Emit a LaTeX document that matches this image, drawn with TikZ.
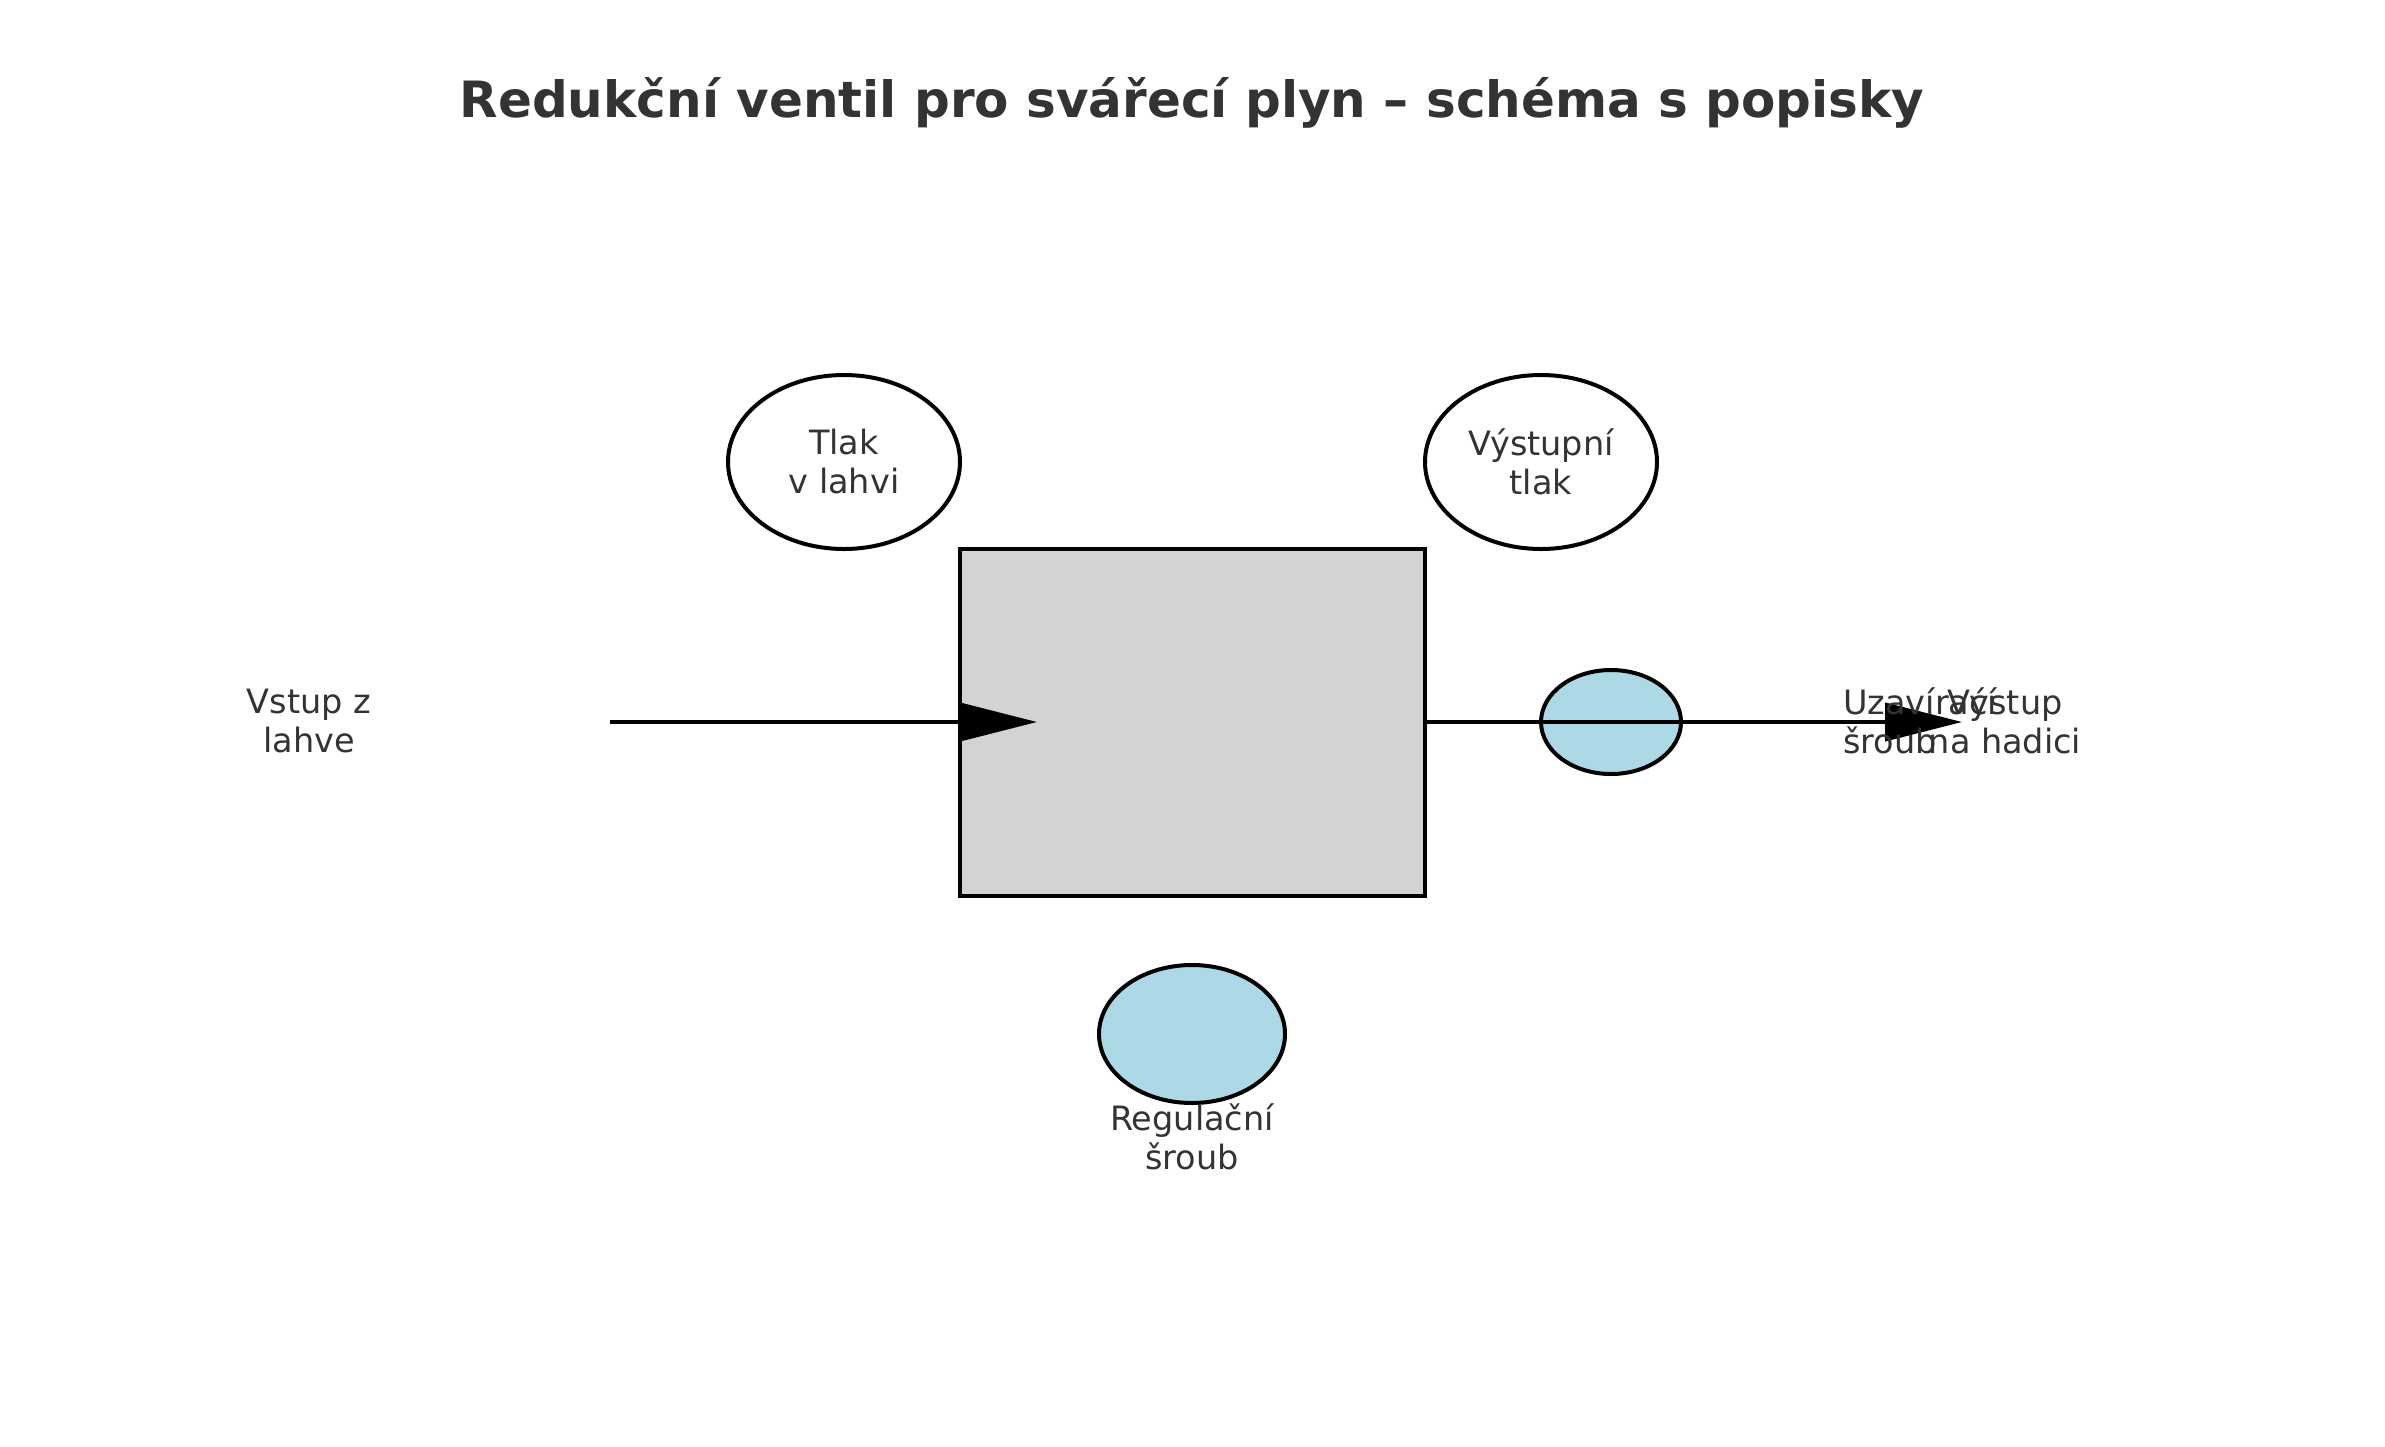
\documentclass[tikz,border=0pt]{standalone}
\usepackage{fontspec}
\setmainfont{DejaVu Sans}
\usetikzlibrary{shapes.geometric,arrows.meta}
\definecolor{txtgray}{HTML}{333333}
\definecolor{boxgray}{HTML}{D3D3D3}
\definecolor{knobblue}{HTML}{ADD8E6}
\begin{document}
\begin{tikzpicture}[x=1pt,y=-1pt,
  lbl/.style={text=txtgray, font=\fontsize{33.5}{39}\selectfont, align=center, inner sep=0pt},
  gauge/.style={ellipse, draw, line width=4pt, fill=white, inner sep=0pt, minimum width=232pt, minimum height=174pt},
  knob/.style={ellipse, draw, line width=4pt, fill=knobblue, inner sep=0pt},
  flow/.style={line width=4pt, -{Triangle[length=77pt,width=38pt]}}]
\useasboundingbox (0,0) rectangle (2385,1446);
\node[text=txtgray, font=\bfseries\fontsize{50}{60}\selectfont] (title) at (1192,103) {Redukční ventil pro svářecí plyn – schéma s popisky};

\node[gauge] (inpress) at (844,462) {};
\node[lbl] at (inpress) {Tlak\\v lahvi};
\node[gauge] (outpress) at (1541,462) {};
\node[lbl] at (outpress) {Výstupní\\tlak};

\node[draw, line width=4pt, fill=boxgray, minimum width=465pt, minimum height=347pt, inner sep=0pt] (valve) at (1192,722) {};
\node[knob, minimum width=140pt, minimum height=104pt] (shutoff) at (1611,722) {};
\node[knob, minimum width=186pt, minimum height=138pt] (regknob) at (1192,1034) {};

\coordinate (src) at (610,722);
\coordinate (intip) at (1037,722);
\coordinate (outtip) at (1962,722);
\draw[flow] (src) -- (intip);
\draw[flow] (valve.east) -- (outtip);

\node[lbl] (inlbl) at (309,721) {Vstup z\\lahve};
\node[lbl] (reglbl) at (1192,1137) {Regulační\\šroub};
\node[lbl, anchor=west, align=left] (shutlbl) at (1843,721) {Uzavírací\\šroub};
\node[lbl] (outlbl) at (2005,721) {Výstup\\na hadici};
\end{tikzpicture}
\end{document}
